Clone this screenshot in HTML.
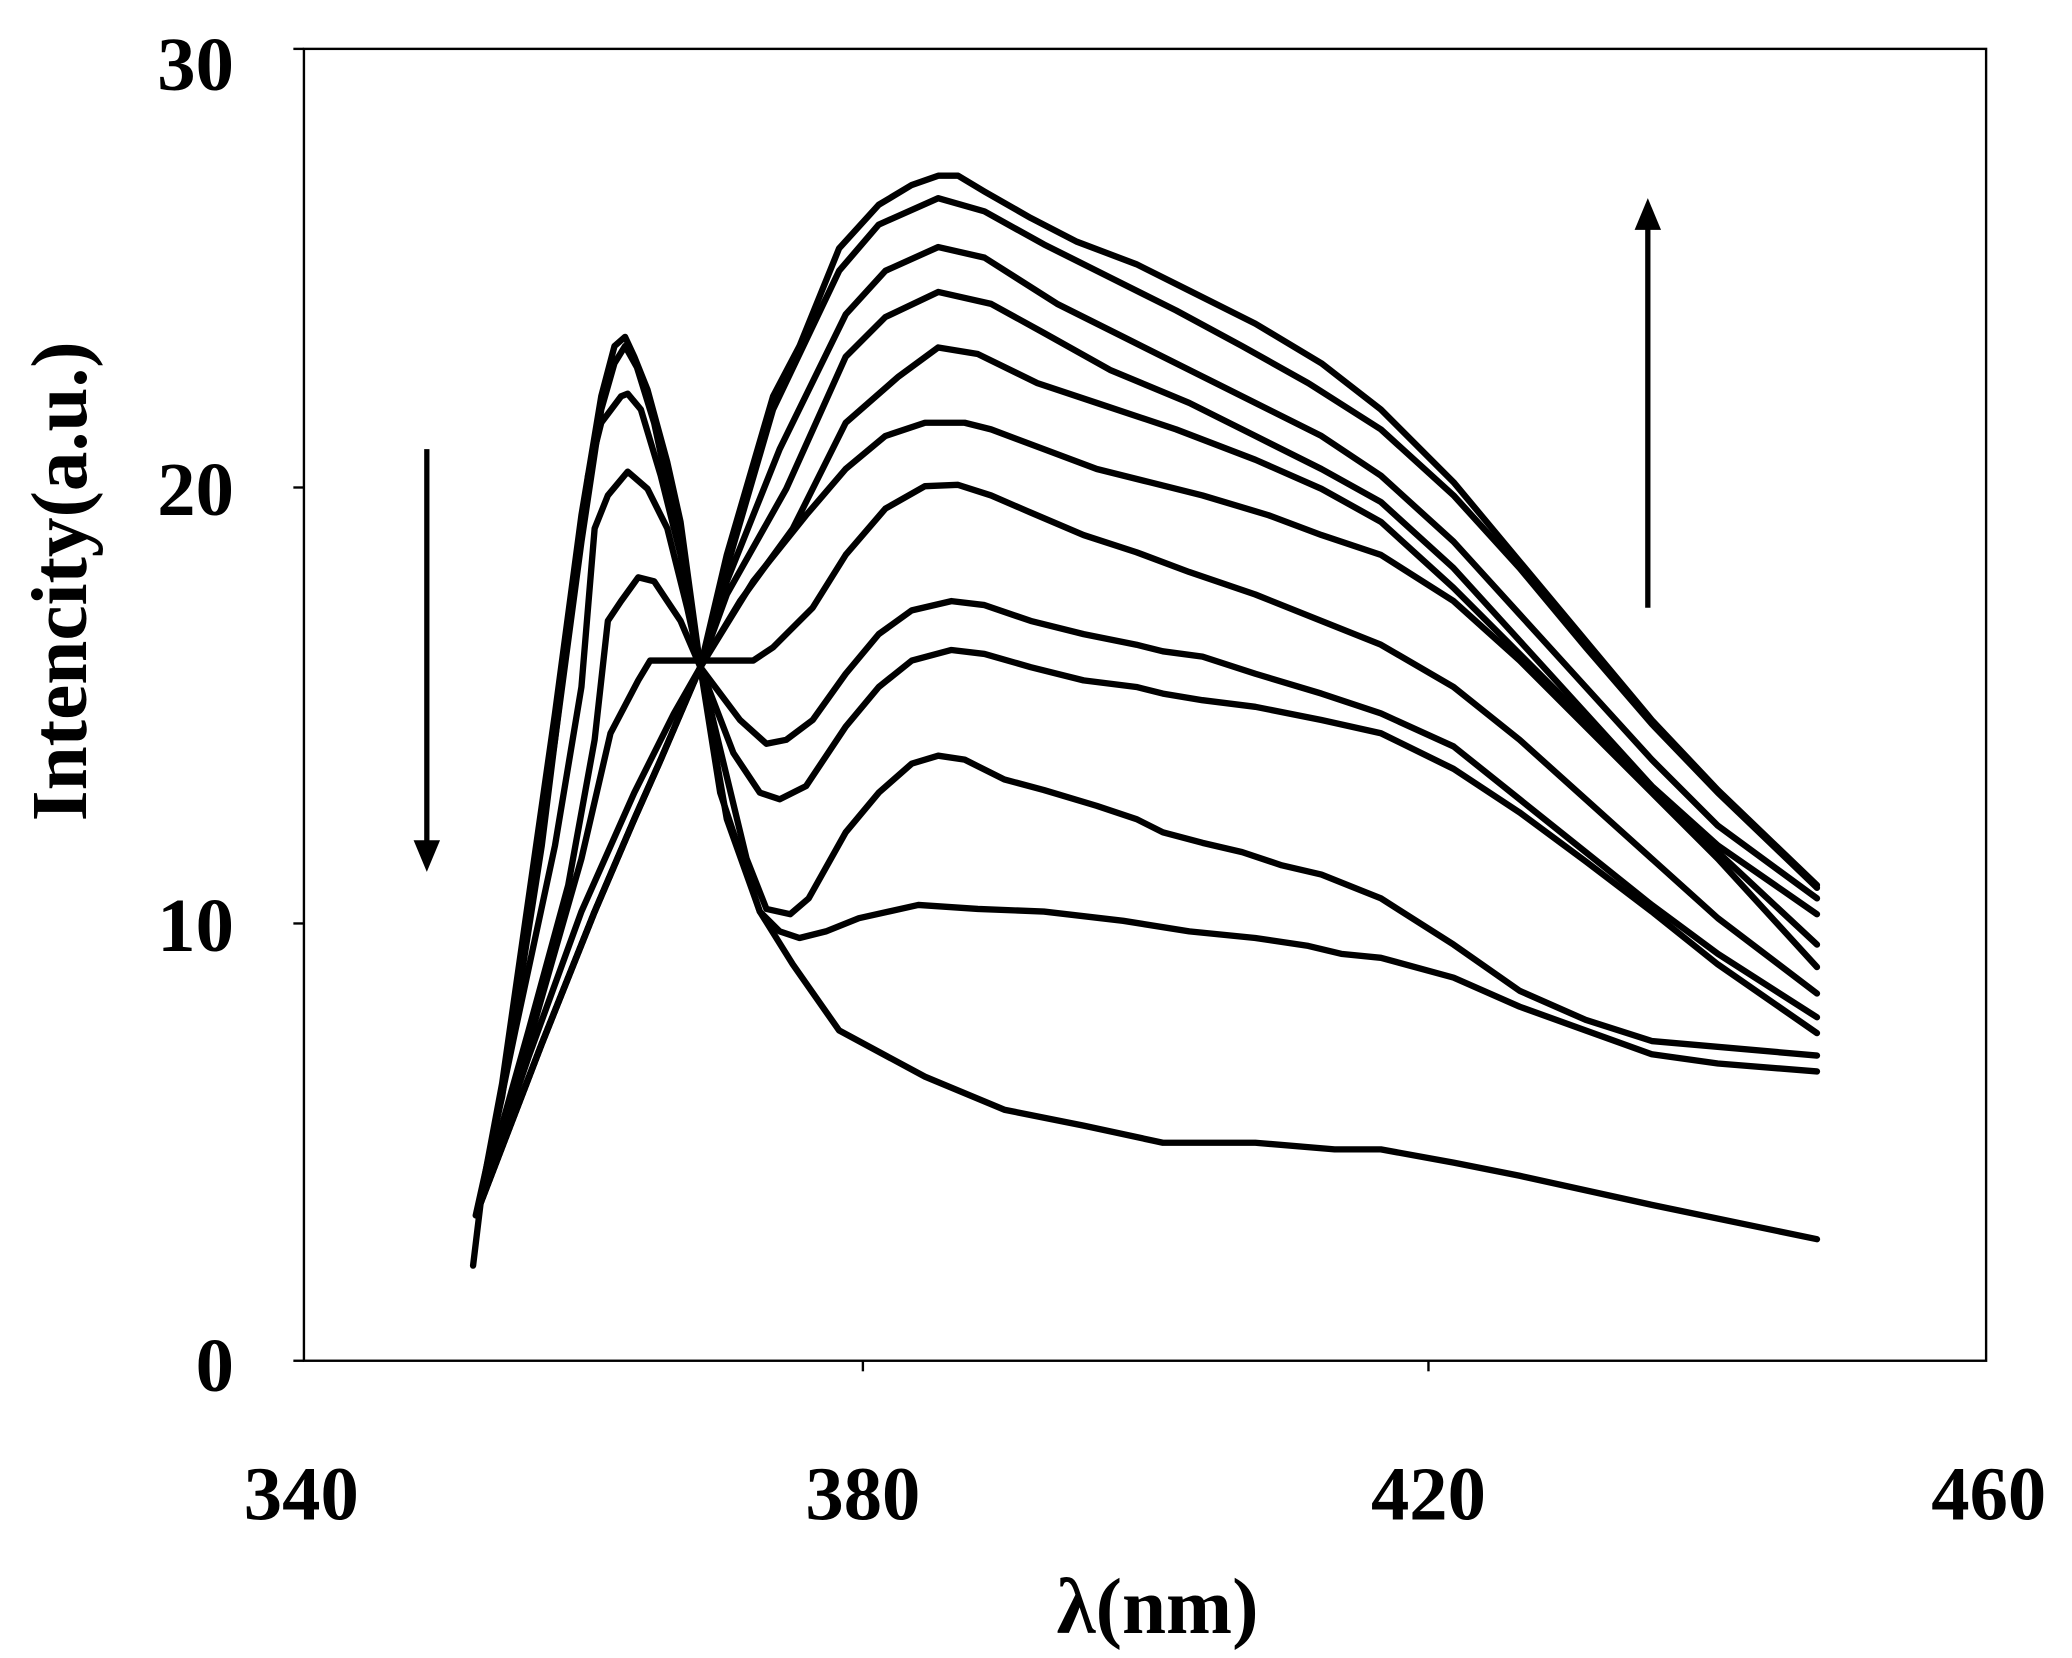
<!DOCTYPE html>
<html><head><meta charset="utf-8"><style>
html,body{margin:0;padding:0;background:#fff;}
svg{display:block;}
text{font-family:"Liberation Serif",serif;font-weight:bold;fill:#000;}
</style></head><body>
<svg width="2072" height="1658" viewBox="0 0 1568 1255" preserveAspectRatio="none" xmlns="http://www.w3.org/2000/svg">
<rect x="230" y="37" width="1273" height="993" fill="none" stroke="#000" stroke-width="1.8"/>
<g stroke="#000" stroke-width="1.8">
<line x1="222" y1="369" x2="230" y2="369"/><line x1="222" y1="699" x2="230" y2="699"/>
<line x1="222" y1="37" x2="230" y2="37"/><line x1="222" y1="1030" x2="230" y2="1030"/>
<line x1="653" y1="1030" x2="653" y2="1038"/><line x1="1081" y1="1030" x2="1081" y2="1038"/>
</g>
<g font-size="58" text-anchor="end">
<text x="177" y="68">30</text><text x="177" y="390">20</text><text x="177" y="720">10</text><text x="177" y="1053">0</text>
</g>
<g font-size="58" text-anchor="middle">
<text x="228" y="1150">340</text><text x="653" y="1150">380</text><text x="1081" y="1150">420</text><text x="1505" y="1150">460</text>
</g>
<text font-size="60" text-anchor="middle" x="876" y="1236">λ(nm)</text>
<text font-size="60" text-anchor="middle" transform="translate(65,440) rotate(-90)">Intencity(a.u.)</text>
<g fill="none" stroke="#000" stroke-width="4.8" stroke-linejoin="round" stroke-linecap="round">
<polyline points="358,958 365,900 380,820 400,680 420,540 440,390 455,300 465,262 473,255 480,270 490,295 505,350 515,395 530,505 545,600 575,690 600,730 635,780 700,815 760,840 820,852 880,865 950,865 1010,870 1045,870 1100,880 1150,890 1250,912 1375,938"/>
<polyline points="360,920 380,830 400,700 420,560 440,410 455,310 465,275 473,262 482,278 495,320 510,390 530,505 550,620 575,690 590,705 605,710 625,705 650,695 695,685 740,688 790,690 850,697 900,705 950,710 990,716 1015,722 1045,725 1100,740 1150,762 1200,780 1250,798 1300,805 1375,811"/>
<polyline points="362,915 385,800 410,640 430,480 445,360 455,320 470,300 475,298 485,310 500,360 515,420 530,505 565,650 580,688 598,692 612,680 640,630 665,600 690,578 710,572 730,575 760,590 790,598 830,610 860,620 880,630 910,638 940,645 970,655 1000,662 1045,680 1100,715 1150,750 1200,772 1250,788 1375,799"/>
<polyline points="362,915 390,780 420,640 440,520 450,400 460,375 475,357 490,370 505,400 520,460 530,505 555,570 575,600 590,605 610,595 640,550 665,520 690,500 720,492 745,495 780,505 820,515 860,520 880,525 910,530 950,535 1000,545 1045,555 1100,582 1150,615 1200,652 1250,690 1300,730 1375,782"/>
<polyline points="362,915 400,780 430,670 450,560 460,470 470,455 483,437 495,440 505,455 515,470 530,505 560,545 580,563 595,560 615,545 640,510 665,480 690,462 720,455 745,458 780,470 820,480 860,488 880,493 910,497 950,510 1000,525 1045,540 1100,565 1150,605 1200,645 1250,685 1300,722 1375,770"/>
<polyline points="362,915 400,790 440,650 462,555 483,515 492,500 570,500 585,490 615,460 640,420 670,385 700,368 725,367 750,375 780,388 820,405 860,418 900,433 950,450 1000,470 1045,488 1100,520 1150,560 1200,605 1250,650 1300,695 1375,752"/>
<polyline points="362,915 410,790 450,690 480,620 500,575 530,505 570,440 610,390 640,355 670,330 700,320 730,320 750,325 790,340 830,355 870,365 910,375 960,390 1000,405 1045,420 1100,455 1150,500 1200,550 1250,600 1300,650 1375,732"/>
<polyline points="362,915 410,790 450,690 480,620 500,575 530,505 560,455 600,400 640,320 680,285 710,263 740,268 785,290 830,305 890,325 950,348 1000,370 1045,395 1100,445 1150,495 1200,545 1250,598 1300,645 1375,715"/>
<polyline points="362,915 410,790 450,690 480,620 500,575 530,505 550,450 595,370 640,270 670,240 710,221 750,230 790,252 840,280 900,305 950,330 1000,355 1045,380 1100,430 1150,485 1200,540 1250,595 1300,640 1375,692"/>
<polyline points="362,915 410,790 450,690 480,620 500,575 530,505 550,440 590,340 640,238 670,205 710,187 745,195 800,230 850,255 900,280 950,305 1000,330 1045,360 1100,410 1150,465 1200,520 1250,575 1300,625 1375,680"/>
<polyline points="362,915 410,790 450,690 480,620 500,575 530,505 550,430 585,310 635,205 665,170 710,150 745,160 790,185 840,210 890,235 940,262 990,290 1045,325 1100,375 1150,430 1200,490 1250,548 1300,600 1375,672"/>
<polyline points="362,912 400,800 440,690 480,600 510,540 530,505 550,420 585,300 605,262 635,188 665,155 690,140 710,133 725,133 745,145 780,165 815,183 860,200 900,220 950,245 1000,275 1045,310 1100,365 1150,425 1200,485 1250,545 1300,598 1375,670"/>
</g>
<g stroke="#000" stroke-width="4">
<line x1="323" y1="340" x2="323" y2="640"/>
<line x1="1247" y1="460" x2="1247" y2="170"/>
</g>
<polygon points="313,636 333,636 323,660" fill="#000"/>
<polygon points="1237,174 1257,174 1247,150" fill="#000"/>
</svg>
</body></html>
